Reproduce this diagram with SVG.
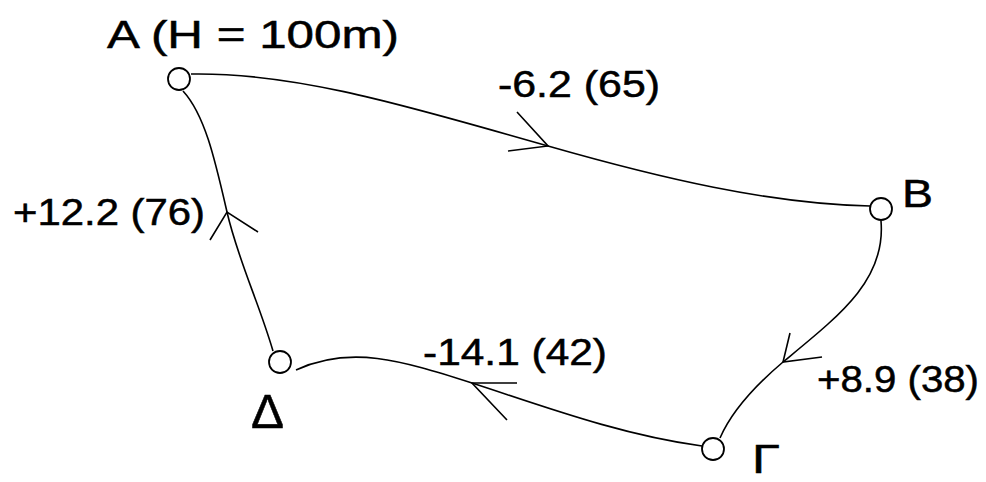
<svg xmlns="http://www.w3.org/2000/svg" width="986" height="482" viewBox="0 0 986 482">
<style>
.edge{fill:none;stroke:#000;stroke-width:1.6}
.head{fill:none;stroke:#000;stroke-width:1.6}
.node{fill:#fff;stroke:#000;stroke-width:1.8}
.lbl{font-family:"Liberation Sans",Arial,sans-serif;fill:#000;stroke:#000;stroke-width:0.5}
</style>
<rect width="986" height="482" fill="#fff"/>
<g id="connectors">
<path class="edge" d="M191,74 C300,72 420,110 548,146 C660,178 770,204 870,206"/>
<polyline class="head" points="517,112 548,146 508,151"/>
<path class="edge" d="M881,221 C886,280 840,315 783,362 C750,390 730,415 720,438"/>
<polyline class="head" points="790,333 783,362 822,357"/>
<path class="edge" d="M702,446 C620,435 540,405 472,383 C400,360 350,345 296,370"/>
<polyline class="head" points="517,383 472,383 507,420"/>
<path class="edge" d="M273,351 C258,300 238,260 227,212 C215,160 205,115 183,91"/>
<polyline class="head" points="210,240 227,212 258,232"/>
</g>
<g class="lbl" font-size="36">
<text x="498" y="97" textLength="162" lengthAdjust="spacingAndGlyphs">-6.2 (65)</text>
<text x="13" y="225" textLength="192" lengthAdjust="spacingAndGlyphs">+12.2 (76)</text>
<text x="817" y="392" textLength="162" lengthAdjust="spacingAndGlyphs">+8.9 (38)</text>
<text x="423" y="365" textLength="184" lengthAdjust="spacingAndGlyphs">-14.1 (42)</text>
</g>
<g id="node-A">
<circle class="node" cx="179" cy="79" r="11"/>
<text class="lbl" x="107" y="48" font-size="38" textLength="292" lengthAdjust="spacingAndGlyphs">A (H = 100m)</text>
</g>
<g id="node-B">
<circle class="node" cx="881" cy="209" r="11"/>
<text class="lbl" x="902" y="207" font-size="38" textLength="31" lengthAdjust="spacingAndGlyphs">B</text>
</g>
<g id="node-G">
<circle class="node" cx="713" cy="449" r="11"/>
<text class="lbl" x="752" y="473" font-size="40" textLength="28" lengthAdjust="spacingAndGlyphs">Γ</text>
</g>
<g id="node-D">
<circle class="node" cx="280" cy="362" r="11"/>
<text class="lbl" x="251" y="428" font-size="48" textLength="33" lengthAdjust="spacingAndGlyphs">Δ</text>
</g>
</svg>
